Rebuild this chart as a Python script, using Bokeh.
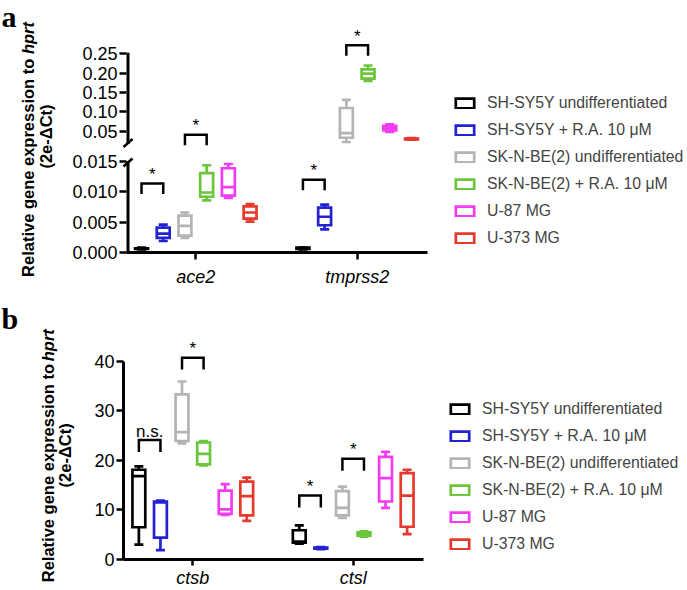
import math
from bokeh.plotting import figure
from bokeh.models import ColumnDataSource, Range1d, FixedTicker, Legend, LegendItem
from bokeh.layouts import column, row
from bokeh.embed import file_html
from bokeh.resources import INLINE
from bokeh.core.properties import value

# ---------------- data ----------------
SERIES = ["SH-SY5Y undifferentiated", "SH-SY5Y + R.A. 10 \u03bcM",
          "SK-N-BE(2) undifferentiated", "SK-N-BE(2) + R.A. 10 \u03bcM",
          "U-87 MG", "U-373 MG"]
COLORS = ["#000000", "#2222d2", "#b4b4b4", "#6cc63c", "#f23cf2", "#e63a2c"]

GENES_A = ["ace2", "tmprss2"]
# five-number summaries [min, q1, median, q3, max], one row per series
ACE2 = [
    [0.0005, 0.0006, 0.00065, 0.0007, 0.0008],
    [0.0019, 0.0024, 0.0031, 0.0041, 0.0046],
    [0.0024, 0.0028, 0.0044, 0.0061, 0.0066],
    [0.0086, 0.0092, 0.0099, 0.0131, 0.0144],
    [0.0090, 0.0094, 0.0108, 0.0139, 0.0146],
    [0.0051, 0.0056, 0.0066, 0.0076, 0.0080],
]
TMPRSS2 = [
    [0.0005, 0.0006, 0.0007, 0.0008, 0.0008],
    [0.0038, 0.0045, 0.0059, 0.0074, 0.0079],
    [0.022, 0.033, 0.045, 0.110, 0.131],
    [0.180, 0.186, 0.199, 0.210, 0.220],
    [0.048, 0.052, 0.058, 0.064, 0.068],
    [0.028, 0.029, 0.030, 0.031, 0.032],
]
TICKS_A = [0.0, 0.005, 0.010, 0.015, 0.05, 0.10, 0.15, 0.20, 0.25]
TICK_LABELS_A = ["0.000", "0.005", "0.010", "0.015", "0.05", "0.10", "0.15", "0.20", "0.25"]
# significance brackets: gene index, from series, to series, level, text
BR_A_GENE = [0, 0, 1, 1]
BR_A_FROM = [0, 2, 0, 2]
BR_A_TO = [1, 3, 1, 3]
BR_A_LEVEL = [0.0114, 0.0407, 0.0120, 0.272]
BR_A_TEXT = ["*", "*", "*", "*"]

GENES_B = ["ctsb", "ctsl"]
CTSB = [
    [3.0, 6.5, 16.8, 18.1, 18.8],
    [1.9, 4.4, 11.5, 11.7, 11.9],
    [23.4, 23.9, 25.7, 33.3, 35.9],
    [19.0, 19.2, 21.3, 23.6, 23.9],
    [9.0, 9.2, 10.1, 13.9, 15.2],
    [7.8, 8.9, 12.8, 15.7, 16.5],
]
CTSL = [
    [3.2, 3.4, 3.6, 5.9, 6.9],
    [2.1, 2.2, 2.3, 2.4, 2.5],
    [8.4, 8.9, 10.4, 13.8, 14.7],
    [4.6, 4.8, 5.1, 5.5, 5.7],
    [10.4, 11.7, 16.4, 20.7, 21.7],
    [5.1, 6.6, 12.9, 17.4, 18.1],
]
TICKS_B = [0, 10, 20, 30, 40]
BR_B_GENE = [0, 0, 1, 1]
BR_B_FROM = [0, 2, 0, 2]
BR_B_TO = [1, 3, 1, 3]
BR_B_LEVEL = [24.1, 40.7, 12.9, 20.3]
BR_B_TEXT = ["n.s.", "*", "*", "*"]

Y_TITLE_MAIN = "Relative gene expression to "
Y_TITLE_ITAL = "hprt"
Y_TITLE_SUB = "(2e-\u0394Ct)"

# ---------------- style / layout ----------------
FONT = "Liberation Sans"
STEP = 0.1345      # spacing between boxes within a gene group
BW = 0.040         # box half width
CW = 0.028         # cap half width
LW = 2.7

# broken axis mapping for panel a (value -> pixel-like plot coordinate)
LOW_SCALE = 6060.0
UP_T0, UP_V0, UP_SCALE = 121.3, 0.05, 386.6
BREAK_V = 0.02


def ty_a(v):
    return v * LOW_SCALE if v < BREAK_V else UP_T0 + (v - UP_V0) * UP_SCALE


def ty_b(v):
    return v


def style_fig(p):
    p.xgrid.visible = False
    p.ygrid.visible = False
    p.outline_line_color = None
    p.background_fill_color = "white"
    p.border_fill_color = "white"


def draw_boxes(p, stats, tf):
    rends = []
    for i in range(len(SERIES)):
        xs = [g + 1 + (i - 2.5) * STEP for g in range(len(stats))]
        five = [stats[g][i] for g in range(len(stats))]
        src = ColumnDataSource(dict(
            x=xs,
            left=[x - BW for x in xs], right=[x + BW for x in xs],
            cl=[x - CW for x in xs], cr=[x + CW for x in xs],
            lo=[tf(f[0]) for f in five], q1=[tf(f[1]) for f in five],
            med=[tf(f[2]) for f in five], q3=[tf(f[3]) for f in five],
            hi=[tf(f[4]) for f in five]))
        c = COLORS[i]
        p.segment(x0="x", y0="q3", x1="x", y1="hi", source=src, line_color=c, line_width=LW)
        p.segment(x0="x", y0="lo", x1="x", y1="q1", source=src, line_color=c, line_width=LW)
        p.segment(x0="cl", y0="hi", x1="cr", y1="hi", source=src, line_color=c, line_width=LW)
        p.segment(x0="cl", y0="lo", x1="cr", y1="lo", source=src, line_color=c, line_width=LW)
        r = p.quad(left="left", right="right", bottom="q1", top="q3", source=src,
                   fill_color=None, line_color=c, line_width=LW, line_join="miter")
        p.segment(x0="left", y0="med", x1="right", y1="med", source=src, line_color=c, line_width=LW)
        rends.append(r)
    return rends


def draw_brackets(p, genes, frm, to, levels, texts, tf, leg):
    xs, ys, tx, tyv = [], [], [], []
    for g, a, b, lv in zip(genes, frm, to, levels):
        xa = g + 1 + (a - 2.5) * STEP
        xb = g + 1 + (b - 2.5) * STEP
        t = tf(lv)
        xs.append([xa, xa, xb, xb])
        ys.append([t - leg, t, t, t - leg])
        tx.append((xa + xb) / 2)
        tyv.append(t)
    p.multi_line(xs=xs, ys=ys, line_color="black", line_width=2.5, line_join="miter")
    src = ColumnDataSource(dict(x=tx, y=tyv, text=texts))
    p.text(x="x", y="y", text="text", source=src, text_font=value(FONT),
           text_font_size=value("17px"), text_align="center", text_baseline="alphabetic",
           y_offset=-9, text_color="black")


def make_legend(p, rends, loc):
    items = [LegendItem(label=SERIES[i], renderers=[rends[i]]) for i in range(len(SERIES))]
    lg = Legend(items=items, location=loc, padding=0, margin=0, spacing=9,
                glyph_width=23, glyph_height=12, label_height=18, label_standoff=11,
                label_text_font=FONT, label_text_font_size="15.8px",
                border_line_alpha=0, background_fill_alpha=0)
    p.add_layout(lg)


def style_axes(p, tick_out, std_y, std_x, font_x):
    for ax in (p.xaxis[0], p.yaxis[0]):
        ax.axis_line_width = 3
        ax.axis_line_color = "black"
        ax.major_tick_line_width = 2.5
        ax.major_tick_line_color = "black"
        ax.major_tick_in = 0
        ax.minor_tick_line_color = None
        ax.major_label_text_font = FONT
        ax.major_label_text_color = "black"
    p.yaxis[0].major_tick_out = 7
    p.xaxis[0].major_tick_out = tick_out
    p.yaxis[0].major_label_text_font_size = "18px"
    p.yaxis[0].major_label_standoff = std_y
    p.xaxis[0].major_label_standoff = std_x
    p.xaxis[0].major_label_text_font_size = font_x
    p.xaxis[0].major_label_text_font_style = "italic"


def margin_texts(p, px2x, px2y, letter, letter_xy, x1, x2, yc1, yc2):
    """Panel letter and two-line y title, drawn in the left margin (page-pixel anchors)."""
    lx, ly = letter_xy
    p.text(x=[px2x(lx)], y=[px2y(ly)], text=[letter], text_font=value("Liberation Serif"),
           text_font_style="bold", text_font_size=value("30px"), text_align="left",
           text_baseline="alphabetic", text_color="black", level="overlay")
    fs = 16.5
    w_main = 13.505 * fs           # Arial-bold advance of Y_TITLE_MAIN
    w_total = w_main + 1.944 * fs  # + bold-italic "hprt"
    y_start = yc1 + w_total / 2    # page y of the (bottom) start of line 1
    common = dict(angle=math.pi / 2, text_font=value(FONT), text_font_size=value(f"{fs}px"),
                  text_color="black", text_baseline="middle", level="overlay")
    p.text(x=[px2x(x1)], y=[px2y(y_start)], text=[Y_TITLE_MAIN], text_align="left",
           text_font_style="bold", **common)
    p.text(x=[px2x(x1)], y=[px2y(y_start - w_main)], text=[Y_TITLE_ITAL], text_align="left",
           text_font_style="bold italic", **common)
    p.text(x=[px2x(x2)], y=[px2y(yc2)], text=[Y_TITLE_SUB], text_align="center",
           text_font_style="bold", **common)


# ---------------- panel a ----------------
FA_LEFT = 126            # page x of frame left
FA_BOTTOM = 252          # page y of frame bottom
XA_PX = 161.4
XA0 = 1 - (195.3 - FA_LEFT) / XA_PX
XA1 = XA0 + (687 - FA_LEFT) / XA_PX
XA_END = 1 + (427 - 195.3) / XA_PX
XA_AX = XA0 + 1.5 / XA_PX

pa = figure(width=687, height=290, output_backend="svg", toolbar_location=None,
            x_range=Range1d(XA0, XA1), y_range=Range1d(0, 242),
            min_border_left=FA_LEFT, min_border_right=0, min_border_top=10,
            min_border_bottom=38)
style_fig(pa)
rends_a = draw_boxes(pa, [ACE2, TMPRSS2], ty_a)
draw_brackets(pa, BR_A_GENE, BR_A_FROM, BR_A_TO, BR_A_LEVEL, BR_A_TEXT, ty_a, 10.5)

ta = [ty_a(v) for v in TICKS_A]
pa.yaxis[0].ticker = FixedTicker(ticks=ta, minor_ticks=[])
pa.yaxis[0].major_label_overrides = {t: s for t, s in zip(ta, TICK_LABELS_A)}
pa.xaxis[0].ticker = FixedTicker(ticks=[1, 2], minor_ticks=[])
pa.xaxis[0].major_label_overrides = {1: GENES_A[0], 2: GENES_A[1]}
pa.xaxis[0].bounds = (XA0, XA_END)
style_axes(pa, 7, 2, 7, "18px")
pa.yaxis[0].axis_line_color = None

# broken y-axis line (two pieces) with break marks
low_top, up_bot = 91.5, 108.5
pa.segment(x0=[XA_AX, XA_AX], y0=[0, up_bot], x1=[XA_AX, XA_AX],
           y1=[low_top, ty_a(TICKS_A[-1]) + 1.2], line_color="black", line_width=3,
           level="overlay")
SDX = 4.5 / XA_PX
pa.segment(x0=[XA_AX - SDX, XA_AX - SDX], y0=[86.0, 105.5],
           x1=[XA_AX + SDX, XA_AX + SDX], y1=[94.0, 113.5],
           line_color="black", line_width=2.5, level="overlay")

make_legend(pa, rends_a, (327, 5))
margin_texts(pa, lambda px: XA0 + (px - FA_LEFT) / XA_PX, lambda py: FA_BOTTOM - py,
             "a", (1, 16), 27, 45, 149, 136)

# ---------------- panel b ----------------
FB_LEFT = 123
FB_BOTTOM = 561
XB_PX = 160.4
XB0 = 1 - (192.3 - FB_LEFT) / XB_PX
XB1 = XB0 + (687 - FB_LEFT) / XB_PX
XB_END = 1 + (422.7 - 192.3) / XB_PX
YB_PX = 5.0
YB1 = 241 / YB_PX

pb = figure(width=687, height=300, output_backend="svg", toolbar_location=None,
            x_range=Range1d(XB0, XB1), y_range=Range1d(0, YB1),
            min_border_left=FB_LEFT, min_border_right=0, min_border_top=30,
            min_border_bottom=29)
style_fig(pb)
rends_b = draw_boxes(pb, [CTSB, CTSL], ty_b)
draw_brackets(pb, BR_B_GENE, BR_B_FROM, BR_B_TO, BR_B_LEVEL, BR_B_TEXT, ty_b, 12 / YB_PX)

pb.yaxis[0].ticker = FixedTicker(ticks=TICKS_B, minor_ticks=[])
pb.yaxis[0].bounds = (TICKS_B[0], TICKS_B[-1])
pb.xaxis[0].ticker = FixedTicker(ticks=[1, 2], minor_ticks=[])
pb.xaxis[0].major_label_overrides = {1: GENES_B[0], 2: GENES_B[1]}
pb.xaxis[0].bounds = (XB0, XB_END)
style_axes(pb, 6, 2, 2, "18px")

make_legend(pb, rends_b, (325, 6))
margin_texts(pb, lambda px: XB0 + (px - FB_LEFT) / XB_PX,
             lambda py: (FB_BOTTOM - py) / YB_PX,
             "b", (1, 318), 47, 64, 456.5, 456)

layout = column(row(pa), row(pb))
open("out.html", "w").write(file_html(layout, INLINE))
